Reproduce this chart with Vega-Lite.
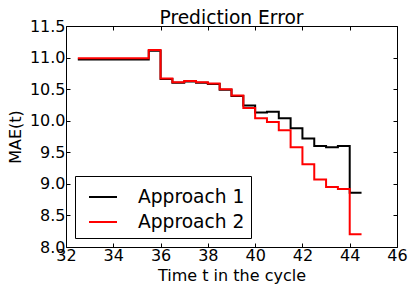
{
  "$schema": "https://vega.github.io/schema/vega-lite/v6.json",
  "width": 331,
  "height": 221,
  "autosize": "none",
  "padding": {"left": 66, "top": 26, "right": 18, "bottom": 47},
  "title": {"text": "Prediction Error", "font": "DejaVu Sans", "fontSize": 18.67, "fontWeight": "normal", "color": "black", "offset": -10},
  "config": {
    "view": {"stroke": "black", "strokeWidth": 1},
    "axis": {"grid": false, "domain": false, "tickColor": "black", "tickSize": -4, "tickWidth": 1, "labelFont": "DejaVu Sans", "labelFontSize": 16, "labelColor": "black", "titleFont": "DejaVu Sans", "titleFontSize": 16, "titleFontWeight": "normal", "titleColor": "black", "labelFlush": false}
  },
  "resolve": {"axis": {"x": "independent", "y": "independent"}},
  "data": {"values": [
    {"t": 32.5, "mae": 10.97, "series": "Approach 1"},
    {"t": 35.5, "mae": 11.11, "series": "Approach 1"},
    {"t": 36.0, "mae": 10.66, "series": "Approach 1"},
    {"t": 36.5, "mae": 10.60, "series": "Approach 1"},
    {"t": 37.0, "mae": 10.62, "series": "Approach 1"},
    {"t": 37.5, "mae": 10.60, "series": "Approach 1"},
    {"t": 38.0, "mae": 10.58, "series": "Approach 1"},
    {"t": 38.5, "mae": 10.49, "series": "Approach 1"},
    {"t": 39.0, "mae": 10.39, "series": "Approach 1"},
    {"t": 39.5, "mae": 10.24, "series": "Approach 1"},
    {"t": 40.0, "mae": 10.13, "series": "Approach 1"},
    {"t": 40.5, "mae": 10.14, "series": "Approach 1"},
    {"t": 41.0, "mae": 10.04, "series": "Approach 1"},
    {"t": 41.5, "mae": 9.88, "series": "Approach 1"},
    {"t": 42.0, "mae": 9.72, "series": "Approach 1"},
    {"t": 42.5, "mae": 9.60, "series": "Approach 1"},
    {"t": 43.0, "mae": 9.58, "series": "Approach 1"},
    {"t": 43.5, "mae": 9.60, "series": "Approach 1"},
    {"t": 44.0, "mae": 8.86, "series": "Approach 1"},
    {"t": 44.5, "mae": 8.86, "series": "Approach 1"},
    {"t": 32.5, "mae": 10.99, "series": "Approach 2"},
    {"t": 35.5, "mae": 11.12, "series": "Approach 2"},
    {"t": 36.0, "mae": 10.67, "series": "Approach 2"},
    {"t": 36.5, "mae": 10.61, "series": "Approach 2"},
    {"t": 37.0, "mae": 10.63, "series": "Approach 2"},
    {"t": 37.5, "mae": 10.61, "series": "Approach 2"},
    {"t": 38.0, "mae": 10.59, "series": "Approach 2"},
    {"t": 38.5, "mae": 10.50, "series": "Approach 2"},
    {"t": 39.0, "mae": 10.40, "series": "Approach 2"},
    {"t": 39.5, "mae": 10.20, "series": "Approach 2"},
    {"t": 40.0, "mae": 10.04, "series": "Approach 2"},
    {"t": 40.5, "mae": 9.98, "series": "Approach 2"},
    {"t": 41.0, "mae": 9.85, "series": "Approach 2"},
    {"t": 41.5, "mae": 9.58, "series": "Approach 2"},
    {"t": 42.0, "mae": 9.31, "series": "Approach 2"},
    {"t": 42.5, "mae": 9.07, "series": "Approach 2"},
    {"t": 43.0, "mae": 8.95, "series": "Approach 2"},
    {"t": 43.5, "mae": 8.92, "series": "Approach 2"},
    {"t": 44.0, "mae": 8.20, "series": "Approach 2"},
    {"t": 44.5, "mae": 8.20, "series": "Approach 2"}
  ]},
  "layer": [
    {
      "mark": {"type": "line", "interpolate": "step-after", "strokeWidth": 2},
      "encoding": {
        "x": {"field": "t", "type": "quantitative", "scale": {"domain": [32, 46], "nice": false, "zero": false},
              "axis": {"orient": "bottom", "title": "Time t in the cycle", "values": [32, 34, 36, 38, 40, 42, 44, 46], "format": "d", "labelPadding": 4, "titlePadding": 4}},
        "y": {"field": "mae", "type": "quantitative", "scale": {"domain": [8, 11.5], "nice": false, "zero": false},
              "axis": {"orient": "left", "title": "MAE(t)", "values": [8, 8.5, 9, 9.5, 10, 10.5, 11, 11.5], "format": ".1f", "labelPadding": 5, "titlePadding": 6}},
        "color": {"field": "series", "type": "nominal",
                  "scale": {"domain": ["Approach 1", "Approach 2"], "range": ["#000000", "#ff0000"]},
                  "legend": {"orient": "none", "legendX": 9, "legendY": 150, "title": null, "strokeColor": "black", "fillColor": "white", "padding": 6, "symbolOffset": 7, "symbolType": "stroke", "symbolSize": 784, "symbolStrokeWidth": 2, "labelFontSize": 18.67, "labelFont": "DejaVu Sans", "labelColor": "black", "labelOffset": 20, "rowPadding": -1, "cornerRadius": 0}}
      }
    },
    {
      "mark": {"type": "line", "opacity": 0},
      "encoding": {
        "x": {"field": "t", "type": "quantitative", "axis": {"orient": "top", "labels": false, "title": null, "values": [32, 34, 36, 38, 40, 42, 44, 46]}},
        "y": {"field": "mae", "type": "quantitative", "axis": {"orient": "right", "labels": false, "title": null, "values": [8, 8.5, 9, 9.5, 10, 10.5, 11, 11.5]}},
        "detail": {"field": "series"}
      }
    }
  ]
}
